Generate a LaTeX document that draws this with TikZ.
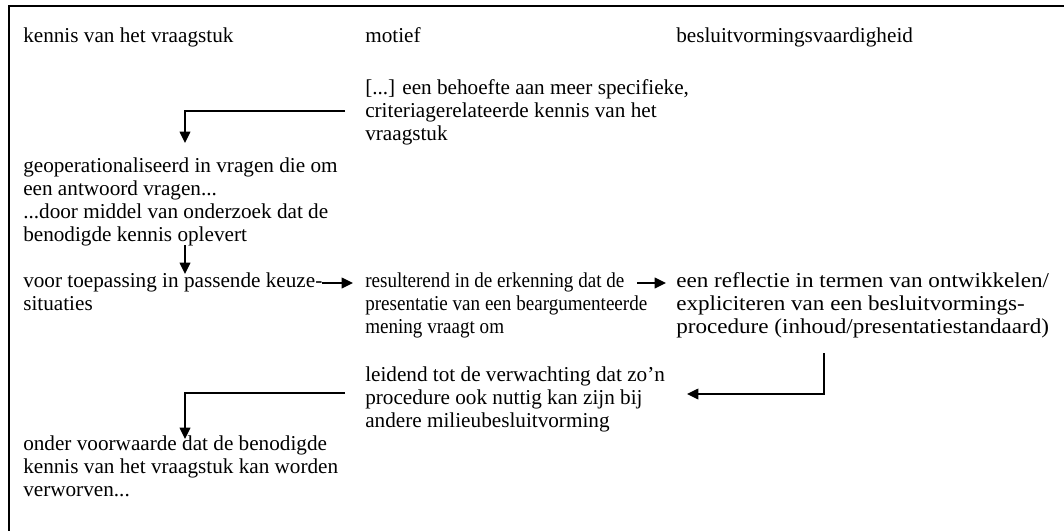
\documentclass[tikz,border=0pt]{standalone}
\usepackage{fontspec}
\usepackage{graphicx}
\setmainfont{Liberation Serif}
\usetikzlibrary{arrows.meta}
\newcommand{\mlines}[1]{\begin{tabular}[t]{@{}l@{}}#1\end{tabular}}
\begin{document}
\begin{tikzpicture}[x=0.75pt,y=-0.75pt,
  txt/.style={anchor=base west, inner sep=0pt, font=\fontsize{15.9}{17.25}\selectfont},
  arr/.style={line width=1.1pt, -{Triangle[length=8.5pt,width=8pt]}},
  frame/.style={line width=1.5pt}]
\useasboundingbox (0,0) rectangle (1064,531);
\draw[frame] (8.5,531) -- (8.5,6) -- (1064,6);

\node[txt] (h1) at (23,43) {kennis van het vraagstuk};
\node[txt] (h2) at (365,43) {motief};
\node[txt] (h3) at (676,43) {besluitvormingsvaardigheid};

\node[txt] (b1) at (365,95) {\mlines{[...] een behoefte aan meer specifieke,\\ criteriagerelateerde kennis van het\\ vraagstuk}};
\node[txt] (c1) at (23,173) {\mlines{geoperationaliseerd in vragen die om\\ een antwoord vragen...\\ ...door middel van onderzoek dat de\\ benodigde kennis oplevert}};
\node[txt] (c2) at (23,287) {\mlines{voor toepassing in passende keuze-\\ situaties}};
\node[txt] (b2) at (365,287) {\scalebox{0.9}[1]{\mlines{resulterend in de erkenning dat de\\ presentatie van een beargumenteerde\\ mening vraagt om}}};
\node[txt] (d1) at (676,287) {\scalebox{1.09}[1]{\mlines{een reflectie in termen van ontwikkelen/\\ expliciteren van een besluitvormings-\\ procedure (inhoud/presentatiestandaard)}}};
\node[txt] (b3) at (365,381) {\mlines{leidend tot de verwachting dat zo’n\\ procedure ook nuttig kan zijn bij\\ andere milieubesluitvorming}};
\node[txt] (c3) at (23,450) {\mlines{onder voorwaarde dat de benodigde\\ kennis van het vraagstuk kan worden\\ verworven...}};

\coordinate (a1s) at (345,111);
\coordinate (a1e) at (185,143);
\coordinate (a2s) at (185,245);
\coordinate (a2e) at (185,274);
\coordinate (a3s) at (322,283);
\coordinate (a3e) at (353,283);
\coordinate (a4s) at (637,283);
\coordinate (a4e) at (666,283);
\coordinate (a5s) at (824,353);
\coordinate (a5e) at (687,394);
\coordinate (a6s) at (345,393);
\coordinate (a6e) at (185,439);

\draw[arr] (a1s) -| (a1e);
\draw[arr] (a2s) -- (a2e);
\draw[arr] (a3s) -- (a3e);
\draw[arr] (a4s) -- (a4e);
\draw[arr] (a5s) |- (a5e);
\draw[arr] (a6s) -| (a6e);
\end{tikzpicture}
\end{document}
